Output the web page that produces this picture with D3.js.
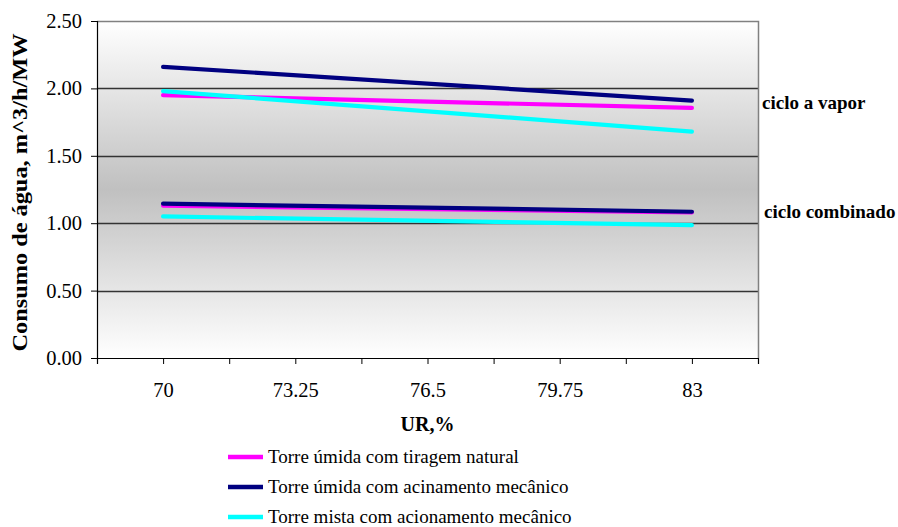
<!DOCTYPE html>
<html>
<head>
<meta charset="utf-8">
<script src="https://cdn.jsdelivr.net/npm/d3@7"></script>
<style>
  html, body { margin: 0; padding: 0; background: #ffffff; }
  svg { display: block; }
</style>
</head>
<body>
<svg id="chart" width="898" height="527"></svg>
<script>
// ---- data ----
const xValues = [70, 83];
const xTickLabels = ["70", "73.25", "76.5", "79.75", "83"];
const seriesNames = [
  "Torre úmida com tiragem natural",
  "Torre úmida com acinamento mecânico",
  "Torre mista com acionamento mecânico"
];
const seriesColors = ["#ff00ff", "#000080", "#00ffff"];
// steam cycle (ciclo a vapor)
const vaporNatural = [1.95, 1.855];
const vaporMecanico = [2.16, 1.91];
const vaporMista = [1.98, 1.68];
// combined cycle (ciclo combinado)
const combNatural = [1.13, 1.08];
const combMecanico = [1.145, 1.085];
const combMista = [1.05, 0.985];
const yTicks = [0, 0.5, 1.0, 1.5, 2.0, 2.5];

const groups = [
  { name: "ciclo a vapor", series: [vaporNatural, vaporMecanico, vaporMista] },
  { name: "ciclo combinado", series: [combNatural, combMecanico, combMista] }
];

const FONT = "'Liberation Serif', 'Times New Roman', Tinos, serif";

// ---- layout ----
const svg = d3.select("#chart").style("font-family", FONT);
const L = 97, R = 758, T = 21, B = 358;

const x = d3.scaleLinear().domain([68.375, 84.625]).range([L, R]);
const y = d3.scaleLinear().domain([0, 2.5]).range([B, T]);

// background gradient
const defs = svg.append("defs");
const grad = defs.append("linearGradient").attr("id", "bg")
  .attr("x1", 0).attr("y1", 0).attr("x2", 0).attr("y2", 1);
grad.append("stop").attr("offset", "0%").attr("stop-color", "#ffffff");
grad.append("stop").attr("offset", "50%").attr("stop-color", "#c0c0c0");
grad.append("stop").attr("offset", "100%").attr("stop-color", "#ffffff");

svg.append("rect").attr("x", L).attr("y", T).attr("width", R - L).attr("height", B - T)
  .attr("fill", "url(#bg)");

// gridlines
svg.append("g").selectAll("line").data(yTicks.filter(d => d > 0 && d < 2.5)).join("line")
  .attr("x1", L).attr("x2", R)
  .attr("y1", d => Math.round(y(d)) + 0.5).attr("y2", d => Math.round(y(d)) + 0.5)
  .attr("stroke", "#333333").attr("stroke-width", 1.3);

// plot border (top & right)
svg.append("path")
  .attr("d", `M${L},${T + 0.5}H${R + 0.5}V${B}`)
  .attr("fill", "none").attr("stroke", "#808080").attr("stroke-width", 1.5);

// y axis
const yAxis = d3.axisLeft(y).tickValues(yTicks).tickFormat(d3.format(".2f")).tickSize(6).tickPadding(9);
const gy = svg.append("g").attr("transform", `translate(${L},0)`).call(yAxis);
gy.attr("font-family", null);
gy.select(".domain").attr("stroke", "#000").attr("stroke-width", 1.2);
gy.selectAll(".tick line").attr("stroke", "#000");
gy.selectAll("text").style("font-size", "20.5px").style("font-family", FONT).attr("fill", "#000");

// x axis
const xTickVals = d3.range(0, 11).map(i => 68.375 + i * 1.625);
const labelMap = new Map(xTickLabels.map(s => [+s, s]));
const xAxis = d3.axisBottom(x).tickValues(xTickVals).tickSize(6).tickPadding(18)
  .tickFormat(d => {
    const k = Math.round(d * 1000) / 1000;
    return labelMap.has(k) ? labelMap.get(k) : "";
  });
const gx = svg.append("g").attr("transform", `translate(0,${B})`).call(xAxis);
gx.attr("font-family", null);
gx.select(".domain").attr("stroke", "#000").attr("stroke-width", 1.2);
gx.selectAll(".tick line").attr("stroke", "#000");
gx.selectAll("text").style("font-size", "20.5px").style("font-family", FONT).attr("fill", "#000");

// lines
const line = d3.line().x((d, i) => x(xValues[i])).y(d => y(d));
groups.forEach(g => {
  g.series.forEach((s, i) => {
    svg.append("path").datum(s).attr("d", line)
      .attr("fill", "none").attr("stroke", seriesColors[i])
      .attr("stroke-width", 4.2).attr("stroke-linecap", "round");
  });
});

// group annotations
svg.append("text").attr("x", 762).attr("y", 109).text(groups[0].name)
  .style("font-family", FONT).style("font-size", "19px").style("font-weight", "bold");
svg.append("text").attr("x", 764).attr("y", 218).text(groups[1].name)
  .style("font-family", FONT).style("font-size", "19px").style("font-weight", "bold");

// axis titles
svg.append("text").attr("x", (L + R) / 2).attr("y", 431).attr("text-anchor", "middle")
  .style("font-family", FONT).style("font-size", "20px").style("font-weight", "bold").text("UR,%");
svg.append("text").attr("transform", `translate(27,${(T + B) / 2 + 3}) rotate(-90)`)
  .attr("text-anchor", "middle")
  .attr("textLength", 318).attr("lengthAdjust", "spacingAndGlyphs")
  .style("font-family", FONT).style("font-size", "20px").style("font-weight", "bold")
  .text("Consumo de água, m^3/h/MW");

// legend
const leg = svg.append("g");
seriesNames.forEach((name, i) => {
  const ly = 457 + i * 30;
  leg.append("line").attr("x1", 228).attr("x2", 263).attr("y1", ly).attr("y2", ly)
    .attr("stroke", seriesColors[i]).attr("stroke-width", 4.5);
  leg.append("text").attr("x", 268).attr("y", ly + 5.5)
    .style("font-family", FONT).style("font-size", "19px").text(name);
});
</script>
</body>
</html>
